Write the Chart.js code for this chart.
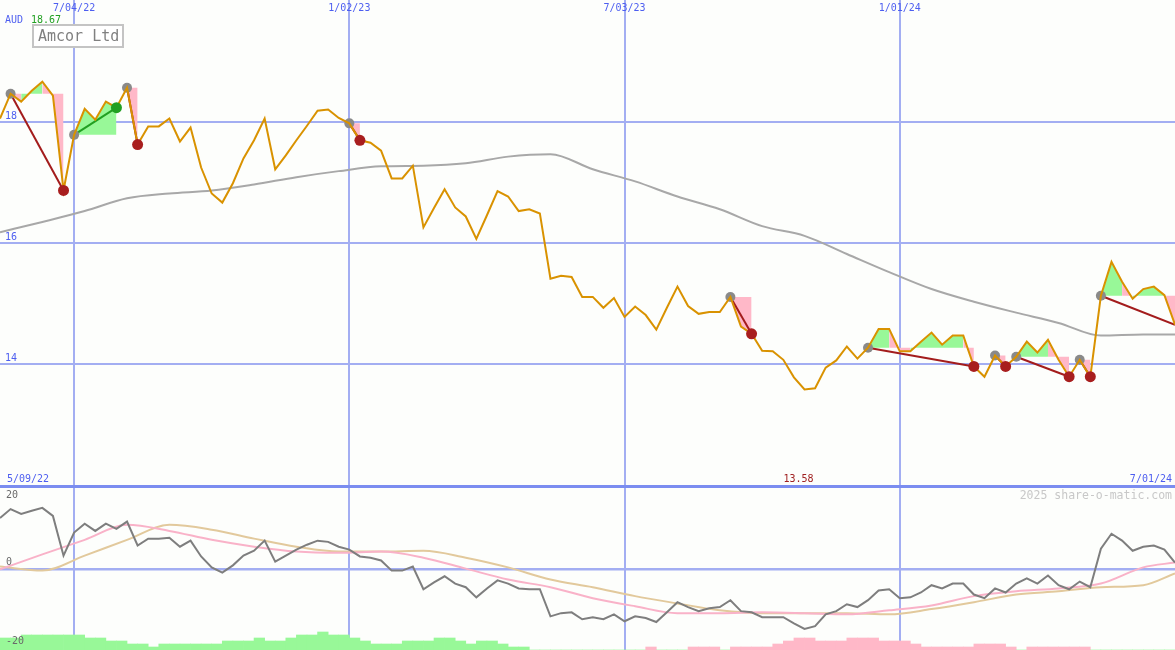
<!DOCTYPE html>
<html>
<head>
<meta charset="utf-8">
<script src="https://cdn.jsdelivr.net/npm/chart.js@4.4.1/dist/chart.umd.min.js"></script>
<style>
body { margin: 0; background: #fdfefc; }
#wrap { position: relative; width: 1175px; height: 650px; overflow: hidden; background: #fdfefc; }
canvas { position: absolute; left: 0; }
#top { top: 0; }
#bottom { top: 488px; }
</style>
</head>
<body>
<div id="wrap">
<canvas id="top" width="1175" height="488"></canvas>
<canvas id="bottom" width="1175" height="162"></canvas>
</div>
<script>
// weekly closes, index 0..111
var price = [18.06, 18.47, 18.34, 18.52, 18.67, 18.44, 16.87, 17.79, 18.22, 18.04,
  18.34, 18.24, 18.57, 17.63, 17.93, 17.93, 18.06, 17.68, 17.91, 17.25,
  16.82, 16.67, 16.99, 17.40, 17.70, 18.06, 17.22, 17.45, 17.70, 17.94,
  18.19, 18.21, 18.07, 17.98, 17.70, 17.66, 17.53, 17.07, 17.07, 17.28,
  16.26, 16.58, 16.89, 16.59, 16.44, 16.07, 16.46, 16.86, 16.77, 16.53,
  16.56, 16.49, 15.41, 15.46, 15.44, 15.11, 15.11, 14.93, 15.09, 14.78,
  14.95, 14.81, 14.57, 14.93, 15.28, 14.96, 14.83, 14.86, 14.86, 15.11,
  14.62, 14.50, 14.22, 14.21, 14.07, 13.78, 13.58, 13.60, 13.94, 14.06,
  14.29, 14.09, 14.27, 14.58, 14.58, 14.21, 14.21, 14.37, 14.52, 14.32,
  14.47, 14.47, 13.96, 13.79, 14.14, 13.96, 14.12, 14.37, 14.19, 14.40,
  14.07, 13.79, 14.07, 13.79, 15.13, 15.69, 15.36, 15.08, 15.24, 15.28,
  15.14, 14.65];

// moving averages, read every 4th week
var maIdx = [0, 4, 8, 12, 16, 20, 24, 28, 32, 36, 40, 44, 48, 52, 56, 60, 64, 68, 72, 76, 80, 84, 88, 92, 96, 100, 104, 108, 111];
var priceMA = [16.18, 16.35, 16.53, 16.74, 16.82, 16.87, 16.97, 17.09, 17.19, 17.27, 17.28, 17.32, 17.43, 17.47,
  17.22, 17.02, 16.77, 16.56, 16.28, 16.12, 15.82, 15.52, 15.24, 15.03, 14.85, 14.68, 14.47, 14.49, 14.49];
var oscMA = [-0.1, 3.6, 7.2, 10.9, 9.4, 7.2, 5.5, 4.3, 4.0, 4.3, 2.8, 0.1, -2.6, -4.5, -7.2, -9.2, -10.9,
  -10.9, -10.7, -10.9, -11.2, -10.2, -9.0, -6.7, -5.5, -4.8, -3.6, 0.4, 1.6];
var oscSlow = [0.6, -0.4, 3.3, 7.2, 10.9, 9.7, 7.5, 5.5, 4.3, 4.3, 4.5, 2.8, 0.4, -2.6, -4.5, -6.7, -8.5,
  -10.2, -10.9, -10.9, -10.9, -11.2, -9.9, -8.2, -6.3, -5.5, -4.5, -4.0, -1.1];

var osc = [12.6, 14.8, 13.6, 14.4, 15.1, 13.1, 3.3, 9.0, 11.2, 9.4,
  11.2, 9.9, 11.7, 5.8, 7.5, 7.5, 7.7, 5.5, 7.0, 3.1,
  0.4, -0.9, 0.9, 3.3, 4.5, 7.0, 1.8, 3.3, 4.8, 6.0,
  7.0, 6.7, 5.5, 4.8, 3.1, 2.8, 2.1, -0.4, -0.4, 0.6,
  -5.0, -3.3, -1.8, -3.6, -4.5, -7.0, -4.8, -2.8, -3.6, -4.8,
  -5.0, -5.0, -11.7, -10.9, -10.7, -12.4, -11.9, -12.4, -11.2, -12.9,
  -11.7, -12.1, -13.1, -10.7, -8.2, -9.4, -10.4, -9.7, -9.4, -7.7,
  -10.4, -10.7, -11.9, -11.9, -11.9, -13.4, -14.8, -14.1, -11.2, -10.4,
  -8.7, -9.4, -7.7, -5.3, -5.0, -7.2, -7.0, -5.8, -4.0, -4.8,
  -3.6, -3.6, -6.3, -7.2, -4.8, -5.8, -3.6, -2.3, -3.6, -1.6,
  -4.0, -5.0, -3.1, -4.5, 5.0, 8.7, 7.0, 4.5, 5.5, 5.8,
  4.8, 1.6];

// histogram levels for each week (between index k and k+1)
var hist = [4, 4, 5, 5, 5, 5, 5, 5, 4, 4, 3, 3, 2, 2, 1, 2, 2, 2, 2, 2,
  2, 3, 3, 3, 4, 3, 3, 4, 5, 5, 6, 5, 5, 4, 3, 2, 2, 2, 3, 3,
  3, 4, 4, 3, 2, 3, 3, 2, 1, 1, 0, 0, 0, 0, 0, 0, 0, 0, 0, 0,
  0, -1, 0, 0, 0, -1, -1, -1, 0, -1, -1, -1, -1, -2, -3, -4, -4, -3, -3, -3,
  -4, -4, -4, -3, -3, -3, -2, -1, -1, -1, -1, -1, -2, -2, -2, -1, 0, -1, -1, -1,
  -1, -1, -1, 0, 0, 0, 0, 0, 0, 0, 0];

// trend segments (week indices)
var segStart = [1, 7, 12, 33, 69, 82, 94, 96, 102, 104];
var segEnd = [6, 11, 13, 34, 71, 92, 95, 101, 103, 111];
var segClosed = [true, true, true, true, true, true, true, true, true, false];

var gridIdx = [7, 33, 59, 85];
var gridLabels = ['7/04/22', '1/02/23', '7/03/23', '1/01/24'];
var rangeLabels = ['5/09/22', '7/01/24'];
var yTicks = [18, 16, 14];
var oscTicks = [20, 0, -20];

var GREEN = '#98f898';
var PINK = '#ffb8c8';
var GRID = '#a3aef2';
var BLUE = '#4d5ef0';
var MONO = '"DejaVu Sans Mono", monospace';

function pts(xs, ys) { return ys.map((v, i) => ({x: xs ? xs[i] : i, y: v})); }

var maxP = Math.max.apply(null, price);
var minP = Math.min.apply(null, price);
var minI = price.indexOf(minP);

var mainSets = [];
mainSets.push({data: pts(null, price), borderColor: '#d99200', borderWidth: 2, pointRadius: 0, order: 2});
mainSets.push({data: pts(maIdx, priceMA), borderColor: '#a8a8a8', borderWidth: 2, pointRadius: 0,
  cubicInterpolationMode: 'monotone', order: 8});

var endPts = [], endCols = [];
segStart.forEach(function(a, s) {
  var b = segEnd[s];
  var level = price[a];
  var up = price[b] > level;
  var seg = [];
  for (var i = a; i <= b; i++) seg.push({x: i, y: price[i]});
  mainSets.push({
    data: seg, borderWidth: 0, borderColor: 'transparent', pointRadius: 0, order: 10,
    backgroundColor: GREEN,
    fill: {target: {value: level}},
    segment: {backgroundColor: c => c.p1.parsed.y >= level ? GREEN : PINK}
  });
  mainSets.push({data: [{x: a, y: level}, {x: b, y: price[b]}], borderColor: up ? '#22a022' : '#a31c1c',
    borderWidth: 2, pointRadius: 0, order: 5});
  if (segClosed[s]) {
    endPts.push({x: b, y: price[b]});
    endCols.push(up ? '#22a022' : '#a81e1e');
  }
});
mainSets.push({data: segStart.map(a => ({x: a, y: price[a]})), showLine: false, pointRadius: 5,
  pointBackgroundColor: '#8a8a8a', pointBorderWidth: 0, order: 4});
mainSets.push({data: endPts, showLine: false, pointRadius: 5.5, pointBackgroundColor: endCols,
  pointBorderWidth: 0, order: 1});

function xScale() {
  return {
    type: 'linear', min: 0, max: 111, offset: false,
    afterBuildTicks: s => { s.ticks = gridIdx.map(v => ({value: v})); },
    ticks: {display: false},
    grid: {color: GRID, lineWidth: 2, drawTicks: false, offset: false},
    border: {display: false}
  };
}

var mainText = {
  id: 'mainText',
  afterDraw: function(chart) {
    var ctx = chart.ctx, xs = chart.scales.x, ys = chart.scales.y;
    ctx.save();
    ctx.fillStyle = '#7b8df0';
    ctx.fillRect(0, 485, chart.width, 3);

    ctx.font = '10px ' + MONO;
    ctx.textBaseline = 'middle';
    ctx.fillStyle = BLUE;
    ctx.textAlign = 'center';
    gridIdx.forEach((g, i) => ctx.fillText(gridLabels[i], xs.getPixelForValue(g), 8));
    ctx.textAlign = 'left';
    yTicks.forEach(v => ctx.fillText(String(v), 5, ys.getPixelForValue(v) - 6));
    ctx.fillText('AUD', 5, 20);
    ctx.fillText(rangeLabels[0], 7, 479);
    ctx.textAlign = 'right';
    ctx.fillText(rangeLabels[1], 1172, 479);
    ctx.textAlign = 'left';
    ctx.fillStyle = '#22a022';
    ctx.fillText(maxP.toFixed(2), 31, 20);
    ctx.fillStyle = '#a02020';
    ctx.textAlign = 'center';
    ctx.fillText(minP.toFixed(2), xs.getPixelForValue(minI) - 6, 479);

    ctx.fillStyle = '#ffffff';
    ctx.fillRect(33, 25, 90, 22);
    ctx.strokeStyle = '#c4c4c4';
    ctx.lineWidth = 2;
    ctx.strokeRect(33, 25, 90, 22);
    ctx.fillStyle = '#808080';
    ctx.font = '15px ' + MONO;
    ctx.textAlign = 'left';
    ctx.fillText('Amcor Ltd', 38, 37);
    ctx.restore();
  }
};

new Chart(document.getElementById('top').getContext('2d'), {
  type: 'line',
  data: {datasets: mainSets},
  options: {
    responsive: false, animation: false, events: [],
    layout: {padding: 0, autoPadding: false},
    plugins: {legend: {display: false}, tooltip: {enabled: false}},
    scales: {
      x: xScale(),
      y: {
        min: 11.95, max: 20.02,
        afterBuildTicks: s => { s.ticks = yTicks.map(v => ({value: v})); },
        ticks: {display: false},
        grid: {color: GRID, lineWidth: 2, drawTicks: false},
        border: {display: false}
      }
    }
  },
  plugins: [mainText]
});

var lowText = {
  id: 'lowText',
  afterDraw: function(chart) {
    var ctx = chart.ctx, ys = chart.scales.y;
    ctx.save();
    ctx.font = '10px ' + MONO;
    ctx.textBaseline = 'middle';
    ctx.fillStyle = '#6a6a6a';
    ctx.textAlign = 'left';
    ctx.fillText(String(oscTicks[0]), 6, ys.getPixelForValue(oscTicks[0]) + 7);
    ctx.fillText(String(oscTicks[1]), 6, ys.getPixelForValue(oscTicks[1]) - 7);
    ctx.fillText(String(oscTicks[2]), 6, ys.getPixelForValue(oscTicks[2]) - 9);
    ctx.font = '11.5px ' + MONO;
    ctx.fillStyle = '#c8c8c8';
    ctx.textAlign = 'right';
    ctx.fillText('2025 share-o-matic.com', 1172, 8);
    ctx.restore();
  }
};

new Chart(document.getElementById('bottom').getContext('2d'), {
  type: 'line',
  data: {
    datasets: [
      {type: 'bar', yAxisID: 'yb', data: hist.map((v, k) => ({x: k + 0.5, y: Math.abs(v)})),
        backgroundColor: hist.map(v => v >= 0 ? GREEN : PINK), borderWidth: 0,
        barPercentage: 1, categoryPercentage: 1, grouped: false, order: 10},
      {data: pts(maIdx, oscSlow), borderColor: '#e2c99c', borderWidth: 2, pointRadius: 0,
        cubicInterpolationMode: 'monotone', order: 4},
      {data: pts(maIdx, oscMA), borderColor: '#f9b2c8', borderWidth: 2, pointRadius: 0,
        cubicInterpolationMode: 'monotone', order: 3},
      {data: pts(null, osc), borderColor: '#7e7e7e', borderWidth: 2, pointRadius: 0, order: 2}
    ]
  },
  options: {
    responsive: false, animation: false, events: [],
    layout: {padding: 0, autoPadding: false},
    plugins: {legend: {display: false}, tooltip: {enabled: false}},
    scales: {
      x: xScale(),
      y: {
        min: -20, max: 20,
        afterBuildTicks: s => { s.ticks = [{value: 0}]; },
        ticks: {display: false},
        grid: {color: GRID, lineWidth: 2.5, drawTicks: false},
        border: {display: false}
      },
      yb: {display: false, min: 0, max: 54}
    }
  },
  plugins: [lowText]
});
</script>
</body>
</html>
